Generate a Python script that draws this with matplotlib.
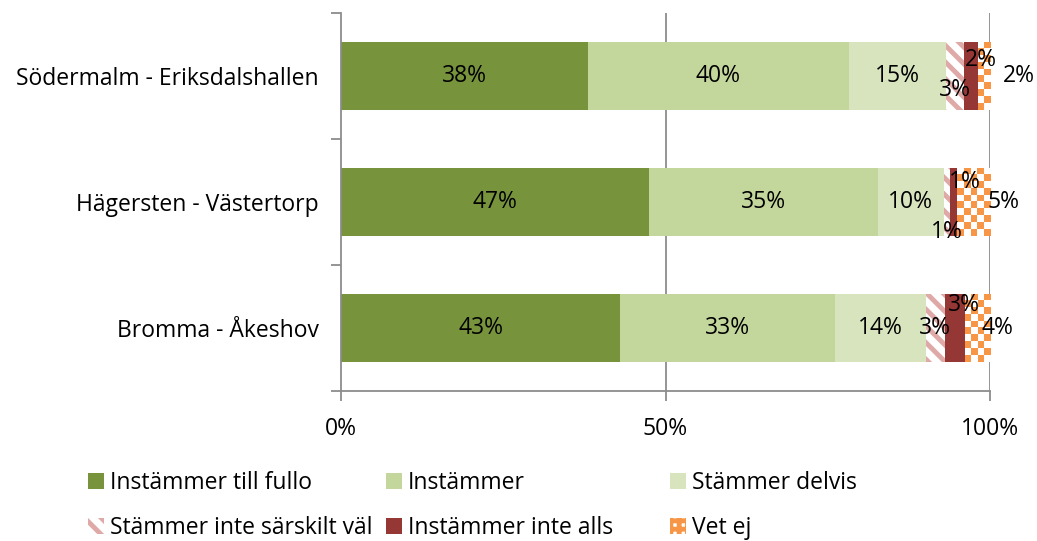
import matplotlib

matplotlib.use("Agg")

import matplotlib.pyplot as plt
import numpy as np
from matplotlib.colors import ListedColormap
from matplotlib.patches import Patch

plt.rcParams["font.family"] = ["Open Sans", "DejaVu Sans"]
plt.rcParams["hatch.linewidth"] = 3.5

categories = ["Södermalm - Eriksdalshallen", "Hägersten - Västertorp", "Bromma - Åkeshov"]
series_names = [
    "Instämmer till fullo",
    "Instämmer",
    "Stämmer delvis",
    "Stämmer inte särskilt väl",
    "Instämmer inte alls",
    "Vet ej",
]
# shares in percent, one list per series (order follows categories)
full = [38.1, 47.4, 43.0]
agree = [40.1, 35.3, 33.1]
partly = [15.0, 10.2, 14.0]
not_well = [2.8, 1.0, 2.9]
not_at_all = [2.1, 1.0, 3.1]
dont_know = [1.9, 5.1, 3.9]
labels = [
    ["38%", "47%", "43%"],
    ["40%", "35%", "33%"],
    ["15%", "10%", "14%"],
    ["3%", "1%", "3%"],
    ["2%", "1%", "3%"],
    ["2%", "5%", "4%"],
]

values = [full, agree, partly, not_well, not_at_all, dont_know]
faces = ["#77933C", "#C3D69B", "#D7E4BD", "white", "#953735", "white"]
edges = ["none", "none", "none", "#DFA9A7", "none", "none"]
hatches = [None, None, None, "\\\\", None, None]
FS = 16.5
# label offsets in pixels (dx, dy-down) for the thin segments, Excel-style manual placement
offsets = {
    (3, 0): (0, 14), (4, 0): (10, -16), (5, 0): (35, 0),
    (3, 1): (0, 30), (4, 1): (11, -20), (5, 1): (30, 0),
    (3, 2): (0, 0), (4, 2): (9, -23), (5, 2): (20, 0),
}

fig = plt.figure(figsize=(10.37, 5.41), dpi=100)
ax = fig.add_axes([341 / 1037, 150 / 541, 649 / 1037, 378 / 541])
ax.set_xlim(0, 100)
ax.set_ylim(2.5, -0.5)

y = np.arange(len(categories))
left = np.zeros(len(categories))
bar_h = 0.54
vet_bars = None
for i, vals in enumerate(values):
    bars = ax.barh(y, vals, left=left, height=bar_h, facecolor=faces[i], hatch=hatches[i],
                   edgecolor=edges[i], linewidth=0, zorder=2)
    if i == 5:
        vet_bars = bars
    for j, b in enumerate(bars):
        cx = left[j] + vals[j] / 2
        dx, dy = offsets.get((i, j), (0, 0))
        ax.annotate(labels[i][j], xy=(cx, y[j]), xytext=(dx * 0.72, -dy * 0.72),
                    textcoords="offset points", ha="center", va="center",
                    fontsize=FS, color="black", zorder=5)
    left = left + np.array(vals)

# checkered fill for "Vet ej"
cmap = ListedColormap(["white", "#F79646"])
cell_px = 7.0
for b in vet_bars:
    x0, y0 = b.get_x(), b.get_y()
    w, h = b.get_width(), b.get_height()
    nx = max(1, int(round(w / 100 * 649 / cell_px)))
    ny = max(1, int(round(h * 126 / cell_px)))
    grid = (np.add.outer(np.arange(ny), np.arange(nx)) % 2).astype(float)
    im = ax.imshow(grid, cmap=cmap, extent=(x0, x0 + w, y0 + h, y0), aspect="auto",
                   interpolation="nearest", zorder=3)
    im.set_clip_path(b)
ax.set_xlim(0, 100)
ax.set_ylim(2.5, -0.5)

ax.set_xticks([0, 50, 100])
ax.set_xticklabels(["0%", "50%", "100%"])
ax.set_yticks(y)
ax.set_yticklabels(categories)
ax.set_yticks([-0.5, 0.5, 1.5, 2.5], minor=True)
ax.tick_params(axis="y", which="major", length=0, pad=16, labelsize=FS)
ax.tick_params(axis="y", which="minor", length=7, color="#8C8C8C", width=1.3)
ax.tick_params(axis="x", length=7, color="#8C8C8C", width=1.3, labelsize=FS, pad=12)
for x in (50, 100):
    ax.axvline(x, color="#8C8C8C", linewidth=1.3, zorder=1)
for s in ("top", "right"):
    ax.spines[s].set_visible(False)
for s in ("left", "bottom"):
    ax.spines[s].set_color("#8C8C8C")
    ax.spines[s].set_linewidth(1.3)
ax.spines["left"].set_zorder(4)

handles = []
for i, name in enumerate(series_names):
    if i == 5:
        handles.append(Patch(facecolor="white", edgecolor="#F79646", hatch="++", linewidth=0, label=name))
    else:
        handles.append(Patch(facecolor=faces[i], hatch=hatches[i], edgecolor=edges[i],
                             linewidth=0, label=name))

# Excel lays the legend out in equal-width columns: one legend per column
col_x = [88, 386, 670]
columns = [[0, 3], [1, 4], [2, 5]]
for cx, idx in zip(col_x, columns):
    leg = fig.legend([handles[k] for k in idx], [series_names[k] for k in idx],
                     loc="upper left", bbox_to_anchor=(cx / 1037, 1 - 471 / 541),
                     frameon=False, fontsize=FS, handlelength=0.7, handleheight=0.7,
                     handletextpad=0.25, labelspacing=0.93, borderpad=0, borderaxespad=0)

fig.savefig("out.png", dpi=100)
